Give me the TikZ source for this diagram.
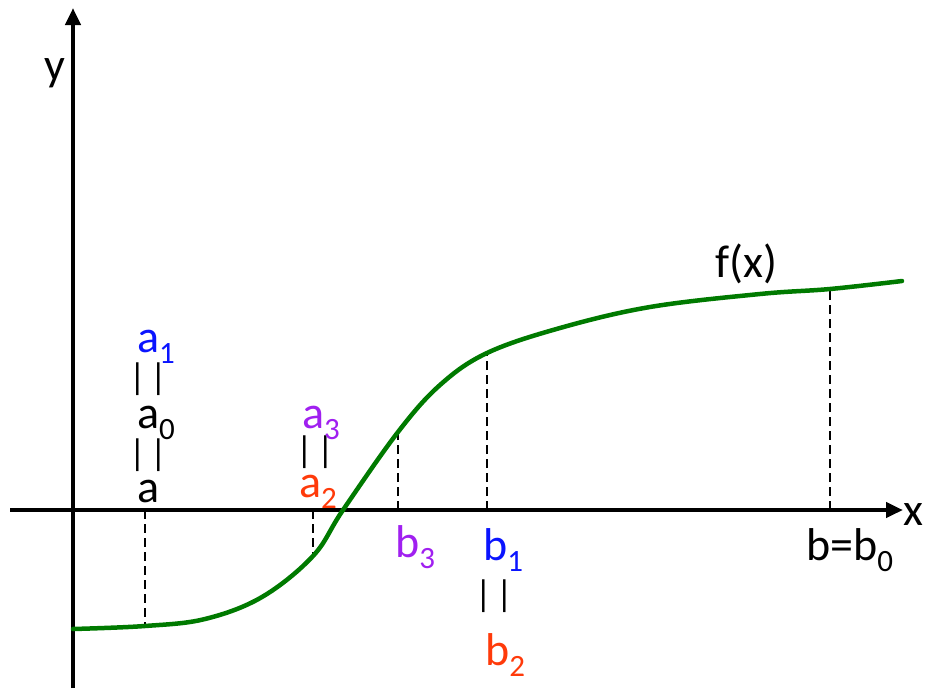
\documentclass[tikz,border=0pt]{standalone}
\usepackage{fontspec}
\setmainfont{Carlito}
\usepackage{tikz}
\usetikzlibrary{positioning, arrows.meta}
\definecolor{curvegreen}{HTML}{007A00}
\definecolor{stepblue}{HTML}{0A14FF}
\definecolor{steppurple}{HTML}{A020F0}
\definecolor{stepred}{HTML}{FF3A0A}

% point name with a lowered index
\newcommand{\ptidx}[2]{#1\raisebox{-0.24em}{\fontsize{31}{31}\selectfont #2}}

\begin{document}
\begin{tikzpicture}[x=1pt, y=-1pt,
    axisline/.style={line width=4.5pt, -{Triangle[length=17pt, width=15pt]}},
    guide/.style={line width=1.4pt, dash pattern=on 9pt off 5pt},
    lbl/.style={inner sep=0pt, anchor=base west, font=\fontsize{46}{50}\selectfont},
    eqbars/.style={inner sep=0pt, anchor=center, font=\fontsize{37}{38}\selectfont}]
  \useasboundingbox (0,0) rectangle (926,688);

  % axes
  \coordinate (xstart) at (10,510);
  \coordinate (xend) at (903,510);
  \coordinate (ystart) at (73,688);
  \coordinate (yend) at (73,8);
  \draw[axisline] (xstart) -- (xend);
  \draw[axisline] (ystart) -- (yend);
  \node[lbl] (xlab) at (903,525) {x};
  \node[lbl] (ylab) at (44,80) {y};

  % points on the axis and on the curve
  \coordinate (xa) at (145,510);  \coordinate (fa) at (145,626);
  \coordinate (xa2) at (313,510); \coordinate (fa2) at (313,556);
  \coordinate (xb3) at (398,510); \coordinate (fb3) at (398,432);
  \coordinate (xb1) at (487,510); \coordinate (fb1) at (487,353);
  \coordinate (xb) at (830,510);  \coordinate (fb) at (830,289);

  \foreach \p in {a, a2, b3, b1, b} {
    \draw[guide] (x\p) -- (f\p);
  }

  % f(x)
  \draw[curvegreen, line width=4.5pt, line cap=round]
    plot[smooth, tension=0.6] coordinates {(73,629) (fa) (205,619) (262,597)
      (fa2) (343,510) (fb3) (440,385) (fb1) (560,328) (650,307) (760,294)
      (fb) (902,281)};
  \node[lbl] (flab) at (715,277) {f(x)};

  % left end: a = a0 = a1
  \node[lbl] (na) at (137,502) {a};
  \node[eqbars] (eqa) at (148,455) {|\kern4pt|};
  \node[lbl] (na0) at (137,428) {\ptidx{a}{0}};
  \node[eqbars] (eqa0) at (148,379) {|\kern4pt|};
  \node[lbl, text=stepblue] (na1) at (137,352) {\ptidx{a}{1}};

  % a2 = a3
  \node[lbl, text=stepred] (na2) at (299,497) {\ptidx{a}{2}};
  \node[eqbars] (eqa2) at (315,452) {|\kern4pt|};
  \node[lbl, text=steppurple] (na3) at (302,428) {\ptidx{a}{3}};

  % right end points
  \node[lbl, text=steppurple] (nb3) at (395,557) {\ptidx{b}{3}};
  \node[lbl, text=stepblue] (nb1) at (483,560) {\ptidx{b}{1}};
  \node[eqbars] (eqb1) at (494,596) {|\kern4pt|};
  \node[lbl, text=stepred] (nb2) at (485,665) {\ptidx{b}{2}};
  \node[lbl] (nb) at (806,560) {b=\ptidx{b}{0}};
\end{tikzpicture}
\end{document}
